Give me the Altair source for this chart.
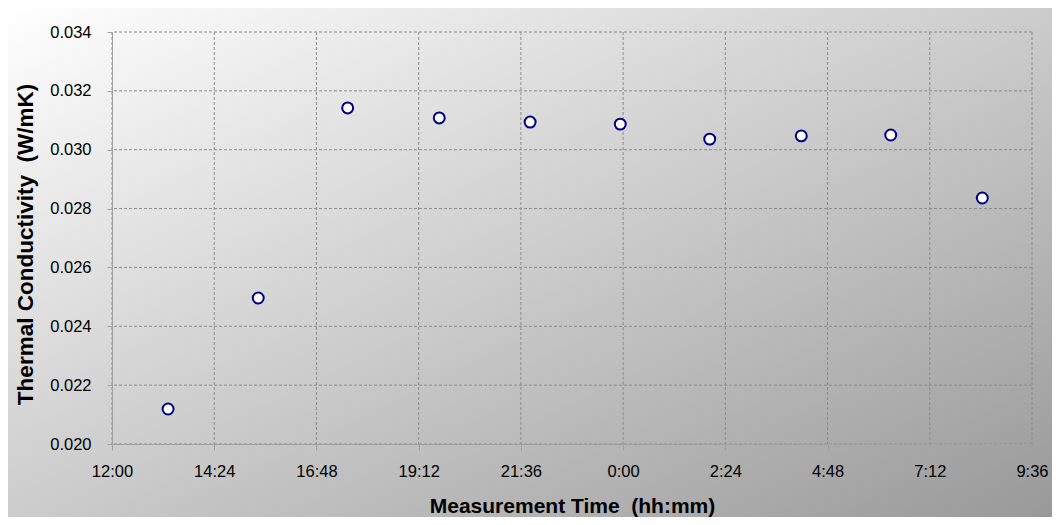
import altair as alt
import pandas as pd

# ---- data ----
times = ["13:19", "15:26", "17:32", "19:41", "21:49", "23:56", "2:02", "4:11", "6:17", "8:26"]
conductivity = [0.02119, 0.02496, 0.03142, 0.03108, 0.03094, 0.03087, 0.03036, 0.03047, 0.03050, 0.02836]
x_tick_labels = ["12:00", "14:24", "16:48", "19:12", "21:36", "0:00", "2:24", "4:48", "7:12", "9:36"]
y_ticks = [0.020, 0.022, 0.024, 0.026, 0.028, 0.030, 0.032, 0.034]


def to_hours(s):
    h, m = s.split(":")
    v = int(h) + int(m) / 60.0
    return v + 24 if v < 12 else v


pts = pd.DataFrame({"t": [to_hours(s) for s in times], "k": conductivity, "label": times})
x_ticks = [to_hours(s) for s in x_tick_labels]
xgrid = pd.DataFrame({"v": x_ticks})
ygrid = pd.DataFrame({"v": y_ticks})

W, H = 920, 412
PAD = {"left": 104, "top": 24, "right": 20, "bottom": 73}
FONT = "Liberation Sans"
NB = "\u00a0"

x_scale = alt.Scale(domain=[x_ticks[0], x_ticks[-1]], nice=False, zero=False)
y_scale = alt.Scale(domain=[y_ticks[0], y_ticks[-1]], nice=False, zero=False)

x_axis = alt.Axis(
    title="Measurement Time" + NB + NB + "(hh:mm)",
    values=x_ticks,
    labelExpr="(floor(datum.value) % 24) + ':' + format(round((datum.value % 1) * 60), '02d')",
    grid=False, zindex=1,
    domainColor="#a0a0a0", tickColor="#a0a0a0", tickSize=6,
    labelFont=FONT, labelFontSize=16.5, labelColor="#000000",
    labelBaseline="alphabetic", labelPadding=26, labelFlush=False,
    titleFont=FONT, titleFontSize=21, titleFontWeight="bold", titleColor="#000000",
    titleBaseline="alphabetic", titleY=68,
)
y_axis = alt.Axis(
    title="Thermal Conductivity" + NB + NB + "(W/mK)",
    values=y_ticks, format=".3f",
    grid=False, zindex=1,
    domainColor="#a0a0a0", tickColor="#a0a0a0", tickSize=5,
    labelFont=FONT, labelFontSize=16.5, labelColor="#000000",
    labelPadding=16, labelFlush=False,
    titleFont=FONT, titleFontSize=22.5, titleFontWeight="bold", titleColor="#000000",
    titleBaseline="alphabetic", titleX=-80, titleY=212, titleAngle=270,
)

bg = alt.Chart(alt.Data(values=[{}])).mark_rect(
    clip=False,
    fill=alt.LinearGradient(
        gradient="linear", x1=0, y1=0, x2=1, y2=1,
        stops=[alt.GradientStop(offset=0, color="#ffffff"),
               alt.GradientStop(offset=1, color="#999999")],
    ),
).encode(
    x=alt.value(-PAD["left"]), x2=alt.value(W + PAD["right"]),
    y=alt.value(-PAD["top"]), y2=alt.value(H + PAD["bottom"]),
)

grid_x = alt.Chart(xgrid).mark_rule(color="#8c8c8c", strokeDash=[3, 2], strokeWidth=1).encode(
    x=alt.X("v:Q", scale=x_scale, axis=x_axis)
)
grid_y = alt.Chart(ygrid).mark_rule(color="#8c8c8c", strokeDash=[3, 2], strokeWidth=1).encode(
    y=alt.Y("v:Q", scale=y_scale, axis=y_axis)
)

points = alt.Chart(pts).mark_point(
    shape="circle", filled=True, fill="#ffffff", stroke="#000080", strokeWidth=2, size=120, opacity=1
).encode(
    x=alt.X("t:Q", scale=x_scale, axis=x_axis),
    y=alt.Y("k:Q", scale=y_scale, axis=y_axis),
)

chart = alt.layer(bg, grid_x, grid_y, points).properties(
    width=W, height=H,
    autosize=alt.AutoSizeParams(type="none"),
    padding=PAD,
).configure_view(stroke=None)

chart.save("out.html", embed_options={"renderer": "svg", "actions": False})
